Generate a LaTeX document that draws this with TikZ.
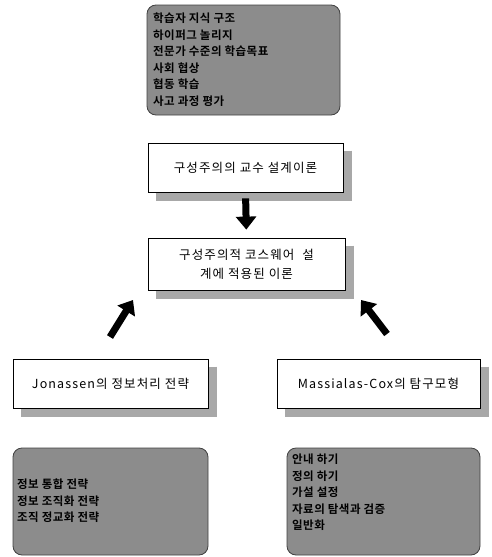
\documentclass[tikz,border=0pt]{standalone}
\usepackage{fontspec}
\setmainfont{Noto Sans CJK KR}
\newfontfamily\boxfont[LetterSpace=9]{Noto Sans CJK KR}
\newfontfamily\grayfont[LetterSpace=4]{Noto Sans CJK KR Bold}
\usetikzlibrary{arrows.meta}
\definecolor{boxgray}{RGB}{140,140,140}
\definecolor{shadecol}{RGB}{168,168,168}
\tikzset{
  whitebox/.style={draw=black, line width=0.8pt, fill=white, inner sep=2pt,
    font=\boxfont\fontsize{12.5}{19}\selectfont, align=center},
  shadowline/.style={draw=shadecol, line width=8.5pt, line cap=butt},
  graybox/.style={draw=gray!50!black, line width=0.8pt, rounded corners=9pt, fill=boxgray},
  graytext/.style={font=\grayfont\fontsize{11.5}{16.5}\selectfont, align=left, anchor=north west, inner sep=0pt},
  blockarrow/.style={line width=7pt, -{Triangle[width=20pt,length=13pt]}}
}
\begin{document}
\begin{tikzpicture}[x=1pt,y=-1pt]
\useasboundingbox (0,0) rectangle (492,557);
% white boxes
\node[whitebox, minimum width=195pt, minimum height=49pt] (b2) at (245.5,167.5) {구성주의의 교수 설계이론};
\node[whitebox, minimum width=197pt, minimum height=52pt] (b3) at (246.5,264) {구성주의적 코스웨어\ \ 설\\계에 적용된 이론};
\node[whitebox, minimum width=195pt, minimum height=49pt] (b4) at (110.5,383.5) {Jonassen의 정보처리 전략};
\node[whitebox, minimum width=203pt, minimum height=49pt] (b5) at (378.5,383.5) {Massialas-Cox의 탐구모형};
% drop shadows as thick strokes along the right and bottom edges
\draw[shadowline] ([xshift=4.7pt,yshift=-8pt]b2.north east) -- ([xshift=4.7pt,yshift=-8pt]b2.south east);
\draw[shadowline] ([xshift=8pt,yshift=-4.6pt]b2.south west) -- ([xshift=9pt,yshift=-4.6pt]b2.south east);
\draw[shadowline] ([xshift=4.7pt,yshift=-8pt]b3.north east) -- ([xshift=4.7pt,yshift=-8pt]b3.south east);
\draw[shadowline] ([xshift=8pt,yshift=-4.6pt]b3.south west) -- ([xshift=9pt,yshift=-4.6pt]b3.south east);
\draw[shadowline] ([xshift=4.7pt,yshift=-8pt]b4.north east) -- ([xshift=4.7pt,yshift=-8pt]b4.south east);
\draw[shadowline] ([xshift=8pt,yshift=-4.6pt]b4.south west) -- ([xshift=9pt,yshift=-4.6pt]b4.south east);
\draw[shadowline] ([xshift=4.7pt,yshift=-8pt]b5.north east) -- ([xshift=4.7pt,yshift=-8pt]b5.south east);
\draw[shadowline] ([xshift=8pt,yshift=-4.6pt]b5.south west) -- ([xshift=9pt,yshift=-4.6pt]b5.south east);
% top gray box
\node[graybox, minimum width=193pt, minimum height=110pt] (g1) at (243.5,60) {};
\node[graytext] (t1) at (153,13) {학습자 지식 구조\\하이퍼그 놀리지\\전문가 수준의 학습목표\\사회 협상\\협동 학습\\사고 과정 평가};
% bottom gray boxes
\node[graybox, minimum width=195pt, minimum height=107pt] (g2) at (110.5,501.5) {};
\node[graytext] (t2) at (17,479) {정보 통합 전략\\정보 조직화 전략\\조직 정교화 전략};
\node[graybox, minimum width=193pt, minimum height=107pt] (g3) at (383.5,501.5) {};
\node[graytext] (t3) at (292,454) {안내 하기\\정의 하기\\가설 설정\\자료의 탐색과 검증\\일반화};
% arrows
\draw[blockarrow, shorten <=6pt, shorten >=8pt] (b2.south) -- (b3.north);
\coordinate (la1) at (110,337);
\coordinate (la2) at (133,300);
\coordinate (ra1) at (387,334);
\coordinate (ra2) at (361,300);
\draw[blockarrow] (la1) -- (la2);
\draw[blockarrow] (ra1) -- (ra2);
\end{tikzpicture}
\end{document}
